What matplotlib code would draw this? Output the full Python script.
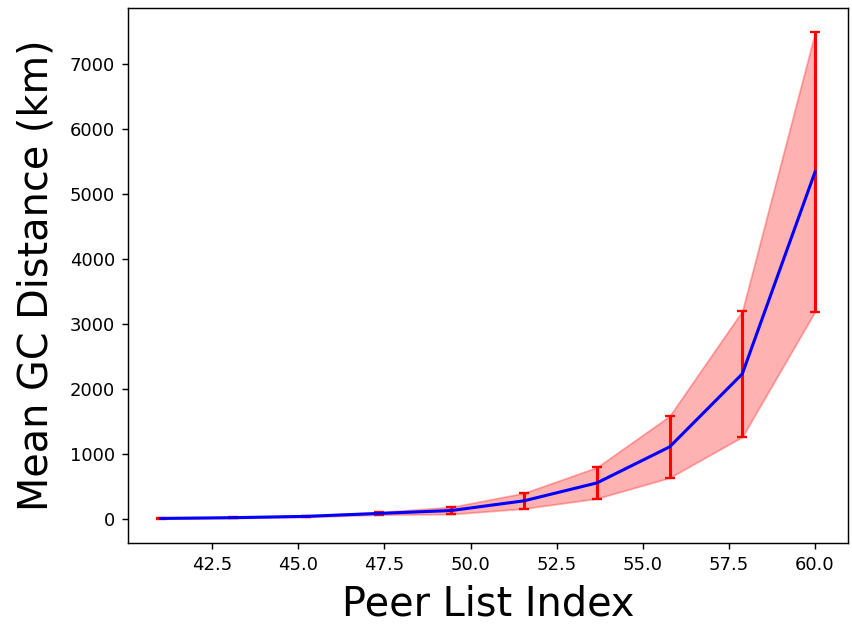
import numpy as np
import matplotlib
matplotlib.use("Agg")
import matplotlib.pyplot as plt

# peer list index positions
peer_index = np.linspace(41, 60, 10)
mean_dist = [3, 15, 35, 80, 125, 275, 550, 1105, 2230, 5340]
err_dist = [2, 5, 10, 20, 55, 120, 240, 475, 970, 2150]

mean_dist = np.array(mean_dist)
err_dist = np.array(err_dist)

dpi = 130
fig, ax = plt.subplots(figsize=(852 / dpi, 624 / dpi), dpi=dpi)
fig.subplots_adjust(left=0.150, right=0.995, top=0.987, bottom=0.130)

ax.fill_between(peer_index, mean_dist - err_dist, mean_dist + err_dist,
                color="red", alpha=0.3)
ax.errorbar(peer_index, mean_dist, yerr=err_dist, fmt="none",
            ecolor="red", elinewidth=1.7, capsize=2.5, capthick=1.3)
ax.plot(peer_index, mean_dist, color="blue", linewidth=1.7)

ax.set_xlabel("Peer List Index", fontsize=22, labelpad=6)
ax.set_ylabel("Mean GC Distance (km)", fontsize=22, labelpad=7.5)

fig.savefig("out.png", dpi=dpi)
